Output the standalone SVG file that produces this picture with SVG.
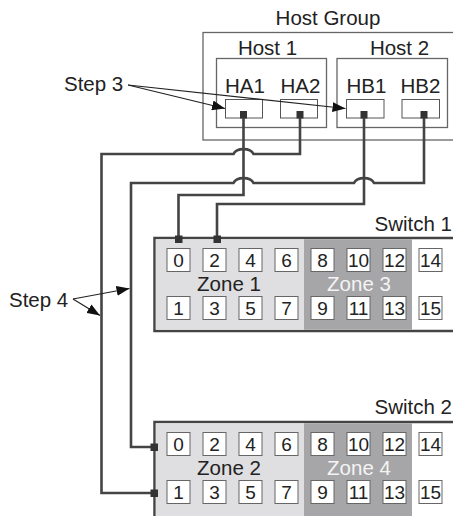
<svg xmlns="http://www.w3.org/2000/svg" width="453" height="516" viewBox="0 0 453 516">
<defs>
<style>
text{font-family:"Liberation Sans",Arial,sans-serif;fill:#222}
.lbl{font-size:20.5px}
.mid{text-anchor:middle}
.port{font-size:19px;text-anchor:middle}
.grp{fill:none;stroke:#666;stroke-width:1.3}
.hport{fill:#fff;stroke:#555;stroke-width:1}
.sw{stroke:#444;stroke-width:2.5}
.pb{fill:#fff;stroke:#666;stroke-width:1}
.z1{fill:#dfdfe1}
.z3{fill:#a6a6a8}
.sq{fill:#333}
.conn{fill:none;stroke:#444;stroke-width:2.6}
.ptr{fill:none;stroke:#222;stroke-width:1.2}
.wt{fill:#f4f4f4}
</style>
<marker id="ah" markerUnits="userSpaceOnUse" markerWidth="13" markerHeight="10" refX="13" refY="5" orient="auto">
<path d="M0,0 L13,5 L0,10 z" fill="#111"/>
</marker>
</defs>

<g id="host-group">
<rect class="grp" x="203" y="32.5" width="260" height="107.5"/>
<text class="lbl mid" x="328" y="25">Host Group</text>
</g>

<g id="host1">
<rect class="grp" x="216.5" y="58.5" width="110" height="69"/>
<text class="lbl mid" x="267.5" y="55">Host 1</text>
</g>
<g id="host2">
<rect class="grp" x="337" y="58.5" width="110.5" height="69"/>
<text class="lbl mid" x="399.5" y="55">Host 2</text>
</g>

<g id="HA1">
<text class="lbl mid" x="245" y="93">HA1</text>
<rect class="hport" x="225.5" y="99.5" width="37" height="18.5"/>
<rect class="sq" x="240" y="111" width="7" height="7.5"/>
</g>
<g id="HA2">
<text class="lbl mid" x="300.5" y="93">HA2</text>
<rect class="hport" x="280.5" y="99.5" width="37" height="18.5"/>
<rect class="sq" x="296.5" y="111" width="7" height="7.5"/>
</g>
<g id="HB1">
<text class="lbl mid" x="366.5" y="93">HB1</text>
<rect class="hport" x="346.5" y="99.5" width="37.5" height="18.5"/>
<rect class="sq" x="360.5" y="111" width="7" height="7.5"/>
</g>
<g id="HB2">
<text class="lbl mid" x="420.5" y="93">HB2</text>
<rect class="hport" x="402" y="99.5" width="37.5" height="18.5"/>
<rect class="sq" x="420.5" y="111" width="7" height="7.5"/>
</g>

<g id="connectors">
<path class="conn" d="M243.5 118 V195 H178.5 V238"/>
<path class="conn" d="M364 118 V204 H217 V238"/>
<path class="conn" d="M300 118 V154 H253.5 C250.5 147.5 236.5 147.5 233.5 154 H101.5 V493 H154"/>
<path class="conn" d="M424 118 V183 H374 C371 176.5 357 176.5 354 183 H253.5 C250.5 176.5 236.5 176.5 233.5 183 H131 V447 H154"/>
<line class="ptr" x1="128" y1="85" x2="225" y2="108.5" marker-end="url(#ah)"/>
<line class="ptr" x1="128" y1="85" x2="345.5" y2="108.5" marker-end="url(#ah)"/>
<line class="ptr" x1="73" y1="299" x2="129.5" y2="288.5" marker-end="url(#ah)"/>
<line class="ptr" x1="73" y1="299" x2="100" y2="315.5" marker-end="url(#ah)"/>
</g>

<g id="step3">
<text class="lbl" x="64" y="91">Step 3</text>
</g>
<g id="step4">
<text class="lbl" x="9" y="307">Step 4</text>
</g>

<g id="switch1">
<text class="lbl" x="452" y="231" text-anchor="end">Switch 1</text>
<rect x="154.5" y="238" width="320" height="93" fill="#fff" class="sw"/>
<rect class="z1" x="155.8" y="239.3" width="148.2" height="90.4"/>
<rect class="z3" x="304" y="239.3" width="108" height="90.4"/>
<rect class="sq" x="175" y="235.5" width="7.5" height="7.5"/>
<rect class="sq" x="213.5" y="235.5" width="7.5" height="7.5"/>
<g>
<rect class="pb" x="167" y="248.5" width="23" height="23"/><text class="port" x="178.5" y="266.8">0</text>
<rect class="pb" x="203" y="248.5" width="23" height="23"/><text class="port" x="214.5" y="266.8">2</text>
<rect class="pb" x="239" y="248.5" width="23" height="23"/><text class="port" x="250.5" y="266.8">4</text>
<rect class="pb" x="275" y="248.5" width="23" height="23"/><text class="port" x="286.5" y="266.8">6</text>
<rect class="pb" x="311" y="248.5" width="23" height="23"/><text class="port" x="322.5" y="266.8">8</text>
<rect class="pb" x="347" y="248.5" width="23" height="23"/><text class="port" x="358.5" y="266.8">10</text>
<rect class="pb" x="383" y="248.5" width="23" height="23"/><text class="port" x="394.5" y="266.8">12</text>
<rect class="pb" x="419" y="248.5" width="23" height="23"/><text class="port" x="430.5" y="266.8">14</text>
<rect class="pb" x="167" y="296.5" width="23" height="23"/><text class="port" x="178.5" y="314.8">1</text>
<rect class="pb" x="203" y="296.5" width="23" height="23"/><text class="port" x="214.5" y="314.8">3</text>
<rect class="pb" x="239" y="296.5" width="23" height="23"/><text class="port" x="250.5" y="314.8">5</text>
<rect class="pb" x="275" y="296.5" width="23" height="23"/><text class="port" x="286.5" y="314.8">7</text>
<rect class="pb" x="311" y="296.5" width="23" height="23"/><text class="port" x="322.5" y="314.8">9</text>
<rect class="pb" x="347" y="296.5" width="23" height="23"/><text class="port" x="358.5" y="314.8">11</text>
<rect class="pb" x="383" y="296.5" width="23" height="23"/><text class="port" x="394.5" y="314.8">13</text>
<rect class="pb" x="419" y="296.5" width="23" height="23"/><text class="port" x="430.5" y="314.8">15</text>
</g>
<text class="lbl mid" x="229" y="291">Zone 1</text>
<text class="lbl mid wt" x="359" y="291">Zone 3</text>
</g>

<g id="switch2">
<text class="lbl" x="452" y="414" text-anchor="end">Switch 2</text>
<rect x="154.5" y="422" width="320" height="110" fill="#fff" class="sw"/>
<rect class="z1" x="155.8" y="423.3" width="148.2" height="107"/>
<rect class="z3" x="304" y="423.3" width="108" height="107"/>
<rect class="sq" x="150.5" y="443.5" width="7.5" height="7.5"/>
<rect class="sq" x="150.5" y="489.5" width="7.5" height="7.5"/>
<g>
<rect class="pb" x="167" y="432.5" width="23" height="23"/><text class="port" x="178.5" y="450.8">0</text>
<rect class="pb" x="203" y="432.5" width="23" height="23"/><text class="port" x="214.5" y="450.8">2</text>
<rect class="pb" x="239" y="432.5" width="23" height="23"/><text class="port" x="250.5" y="450.8">4</text>
<rect class="pb" x="275" y="432.5" width="23" height="23"/><text class="port" x="286.5" y="450.8">6</text>
<rect class="pb" x="311" y="432.5" width="23" height="23"/><text class="port" x="322.5" y="450.8">8</text>
<rect class="pb" x="347" y="432.5" width="23" height="23"/><text class="port" x="358.5" y="450.8">10</text>
<rect class="pb" x="383" y="432.5" width="23" height="23"/><text class="port" x="394.5" y="450.8">12</text>
<rect class="pb" x="419" y="432.5" width="23" height="23"/><text class="port" x="430.5" y="450.8">14</text>
<rect class="pb" x="167" y="480.5" width="23" height="23"/><text class="port" x="178.5" y="498.8">1</text>
<rect class="pb" x="203" y="480.5" width="23" height="23"/><text class="port" x="214.5" y="498.8">3</text>
<rect class="pb" x="239" y="480.5" width="23" height="23"/><text class="port" x="250.5" y="498.8">5</text>
<rect class="pb" x="275" y="480.5" width="23" height="23"/><text class="port" x="286.5" y="498.8">7</text>
<rect class="pb" x="311" y="480.5" width="23" height="23"/><text class="port" x="322.5" y="498.8">9</text>
<rect class="pb" x="347" y="480.5" width="23" height="23"/><text class="port" x="358.5" y="498.8">11</text>
<rect class="pb" x="383" y="480.5" width="23" height="23"/><text class="port" x="394.5" y="498.8">13</text>
<rect class="pb" x="419" y="480.5" width="23" height="23"/><text class="port" x="430.5" y="498.8">15</text>
</g>
<text class="lbl mid" x="229" y="475">Zone 2</text>
<text class="lbl mid wt" x="359" y="475">Zone 4</text>
</g>
</svg>
